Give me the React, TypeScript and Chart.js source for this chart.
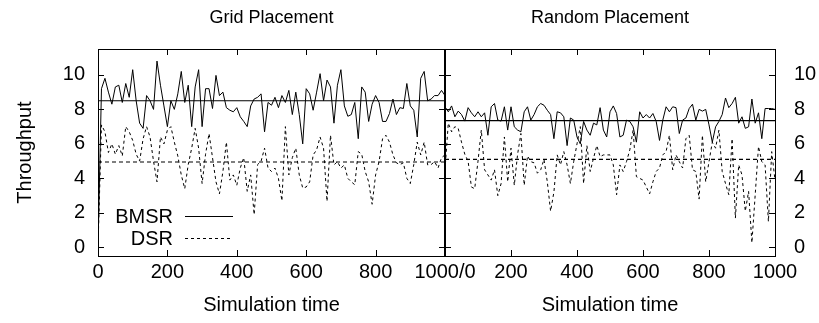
import React, { useEffect, useRef } from 'react';
import { Chart, registerables } from 'chart.js';

Chart.register(...registerables);

// ---------- data ----------
const TIME = Array.from({ length: 101 }, (_, i) => i * 10);

const GRID_BMSR = [
  0, 9.2, 9.8, 9.0, 8.3, 9.3, 9.4, 8.4, 9.5, 8.7,
  10.3, 8.5, 7.2, 6.9, 8.8, 8.5, 8.0, 10.8, 9.4, 8.2,
  7.0, 8.5, 8.0, 8.9, 10.2, 8.4, 9.4, 7.0, 9.3, 10.3,
  7.0, 9.2, 9.2, 8.05, 9.97, 8.8, 9.0, 8.1, 7.95, 7.86,
  8.1, 7.57, 7.3, 7.0, 8.2, 8.6, 8.7, 8.9, 6.7, 8.4,
  8.24, 8.7, 8.1, 8.8, 8.4, 9.1, 7.7, 9.0, 7.7, 6.0,
  9.2, 8.9, 7.95, 9.0, 10.07, 8.5, 9.7, 9.3, 7.2, 9.4,
  10.3, 8.2, 7.6, 7.7, 8.4, 6.3, 9.3, 9.0, 7.3, 8.3,
  8.8, 8.4, 7.3, 7.3, 7.76, 8.6, 7.7, 8.1, 8.05, 9.5,
  8.2, 7.95, 6.4, 9.8, 10.2, 8.5, 8.6, 8.8, 8.8, 9.1,
  8.8,
];

const GRID_DSR = [
  0, 7.1, 6.7, 5.5, 6.0, 5.4, 5.9, 5.3, 7.0, 6.7,
  6.2, 5.4, 5.0, 6.3, 7.0, 6.4, 5.0, 3.8, 6.4, 6.0,
  6.8, 7.0, 6.1, 5.3, 4.2, 3.4, 4.8, 5.75, 6.9, 5.75,
  3.7, 5.4, 6.6, 5.2, 3.8, 3.1, 4.4, 6.1, 3.9, 4.2,
  3.6, 4.6, 5.2, 3.25, 4.2, 1.9, 4.8, 5.0, 5.75, 4.6,
  4.4, 4.6, 4.0, 2.7, 7.0, 4.2, 5.2, 5.75, 4.2, 3.44,
  3.5, 3.8, 5.36, 5.65, 6.4, 5.75, 2.67, 6.5, 4.78, 4.97,
  4.6, 4.78, 4.0, 3.8, 3.63, 5.55, 5.4, 4.4, 3.8, 2.5,
  4.2, 4.97, 6.3, 6.5, 6.1, 5.36, 4.9, 4.8, 4.9, 4.0,
  3.7, 4.8, 6.1, 5.36, 6.1, 4.78, 4.8, 4.97, 4.6, 5.2,
  5.36,
];

const RANDOM_BMSR = [
  8.15, 7.86, 8.2, 7.57, 7.9, 7.7, 7.32, 8.1, 7.8, 7.57,
  7.86, 7.57, 7.8, 6.5, 8.15, 8.34, 7.38, 7.32, 8.15, 6.8,
  8.15, 6.99, 6.8, 6.7, 7.86, 8.15, 7.38, 7.7, 8.15, 8.34,
  8.24, 7.95, 7.7, 6.3, 7.86, 7.8, 7.57, 5.9, 7.5, 7.38,
  6.4, 6.0, 7.3, 6.8, 6.5, 7.2, 7.1, 8.1, 6.8, 6.4,
  7.86, 8.2, 7.76, 6.4, 6.5, 7.38, 7.3, 6.99, 6.1, 7.86,
  7.5, 7.7, 7.5, 7.76, 7.3, 6.2, 7.38, 8.15, 7.86, 8.15,
  8.1, 6.6, 7.38, 7.5, 8.05, 8.3, 7.38, 8.0, 7.9, 8.0,
  7.1, 6.1, 6.99, 7.3, 7.7, 8.66, 8.1, 8.34, 8.7, 7.2,
  7.57, 6.9, 6.99, 8.6, 7.2, 7.8, 6.3, 8.05, 8.05, 8.05,
  8.0,
];

const RANDOM_DSR = [
  4.5, 7.2, 6.7, 7.0, 6.9, 6.1, 5.4, 5.0, 3.5, 3.4,
  5.0, 6.8, 4.5, 4.2, 3.9, 4.5, 3.0, 3.7, 6.4, 3.8,
  5.75, 3.6, 5.4, 6.6, 3.6, 5.3, 4.97, 4.9, 4.3, 4.5,
  5.1, 3.8, 2.1, 3.2, 5.36, 4.78, 5.55, 4.78, 3.7, 4.97,
  6.0, 7.0, 3.7, 5.9, 4.4, 5.17, 5.9, 5.26, 5.36, 5.36,
  5.36, 4.78, 3.05, 4.78, 4.4, 4.97, 5.65, 6.8, 4.1, 4.0,
  3.9, 3.5, 3.1, 3.8, 4.4, 4.6, 5.36, 5.55, 6.5, 4.5,
  5.36, 4.97, 4.6, 6.3, 6.5, 4.5, 4.4, 2.8, 6.5, 3.8,
  4.97, 6.1, 5.75, 6.8, 4.4, 3.7, 3.05, 6.3, 1.7, 4.78,
  4.2, 2.1, 3.25, 0.27, 3.05, 5.85, 4.97, 4.78, 1.5, 5.55,
  3.9,
];

const GRID_BMSR_MEAN = 8.5;
const GRID_DSR_MEAN = 4.95;
const RANDOM_BMSR_MEAN = 7.35;
const RANDOM_DSR_MEAN = 5.1;

const X_TICKS = [0, 200, 400, 600, 800, 1000];
const Y_TICKS = [0, 2, 4, 6, 8, 10];
const X_MIN = 0;
const X_MAX = 1000;
const Y_MIN = -0.5;
const Y_MAX = 11.5;

const PANEL_TITLES = ['Grid Placement', 'Random Placement'];
const SERIES_NAMES = ['BMSR', 'DSR'];
const X_TITLE = 'Simulation time';
const Y_TITLE = 'Throughput';

const FONT = '"Liberation Sans", Arial, Helvetica, sans-serif';
const TEXT_SIZE = 20;
const TITLE_SIZE = 18;

type PanelProps = {
  side: 'left' | 'right';
  left: number;
  width: number;
  title: string;
  bmsr: number[];
  dsr: number[];
  bmsrMean: number;
  dsrMean: number;
};

function Panel(props: PanelProps) {
  const ref = useRef<HTMLCanvasElement | null>(null);

  useEffect(() => {
    const canvas = ref.current;
    if (!canvas) return;
    const isLeft = props.side === 'left';

    const framePlugin = {
      id: 'frameTicks',
      afterDatasetsDraw(chart: any) {
        const { ctx, chartArea: a, scales } = chart;
        const xs = scales.x;
        const ys = scales.y;
        ctx.save();
        ctx.strokeStyle = '#000';
        ctx.setLineDash([]);
        ctx.lineWidth = 1;
        ctx.beginPath();
        X_TICKS.forEach((v) => {
          const px = Math.round(xs.getPixelForValue(v)) + 0.5;
          ctx.moveTo(px, a.bottom);
          ctx.lineTo(px, a.bottom - 6);
          ctx.moveTo(px, a.top);
          ctx.lineTo(px, a.top + 6);
        });
        Y_TICKS.forEach((v) => {
          const py = Math.round(ys.getPixelForValue(v)) + 0.5;
          ctx.moveTo(a.left, py);
          ctx.lineTo(a.left + 6, py);
          ctx.moveTo(a.right, py);
          ctx.lineTo(a.right - 6, py);
        });
        ctx.stroke();
        // frame
        ctx.beginPath();
        ctx.moveTo(a.left + 0.5, a.top + 0.5);
        ctx.lineTo(a.right + 0.5, a.top + 0.5);
        ctx.moveTo(a.left + 0.5, a.bottom + 0.5);
        ctx.lineTo(a.right + 0.5, a.bottom + 0.5);
        if (isLeft) {
          ctx.moveTo(a.left + 0.5, a.top);
          ctx.lineTo(a.left + 0.5, a.bottom + 1);
        } else {
          ctx.moveTo(a.right + 0.5, a.top);
          ctx.lineTo(a.right + 0.5, a.bottom + 1);
        }
        ctx.stroke();
        // shared middle border, drawn thicker
        ctx.lineWidth = 2;
        ctx.beginPath();
        const mx = isLeft ? a.right : a.left;
        ctx.moveTo(mx, a.top);
        ctx.lineTo(mx, a.bottom + 1);
        ctx.stroke();

        // panel title
        ctx.fillStyle = '#000';
        ctx.font = `${TITLE_SIZE}px ${FONT}`;
        ctx.textAlign = 'center';
        ctx.textBaseline = 'middle';
        ctx.fillText(props.title, (a.left + a.right) / 2, 18);

        // legend (left panel only)
        if (isLeft) {
          ctx.font = `${TEXT_SIZE}px ${FONT}`;
          ctx.textAlign = 'right';
          ctx.textBaseline = 'middle';
          const tx = a.left + 75;
          const rows = [a.top + 168, a.top + 190];
          ctx.fillText(SERIES_NAMES[0], tx, rows[0]);
          ctx.fillText(SERIES_NAMES[1], tx, rows[1]);
          ctx.lineWidth = 1;
          ctx.beginPath();
          ctx.setLineDash([]);
          ctx.moveTo(tx + 12, rows[0] - 0.5);
          ctx.lineTo(tx + 60, rows[0] - 0.5);
          ctx.stroke();
          ctx.beginPath();
          ctx.setLineDash([3, 3]);
          ctx.moveTo(tx + 12, rows[1] - 0.5);
          ctx.lineTo(tx + 60, rows[1] - 0.5);
          ctx.stroke();
        }
        ctx.restore();
      },
    };

    const line = (vals: number[], dash: number[], label: string) => ({
      label,
      data: TIME.map((t, i) => ({ x: t, y: vals[i] })),
      borderColor: '#000',
      backgroundColor: '#000',
      borderWidth: 1,
      borderDash: dash,
      pointRadius: 0,
      fill: false,
      tension: 0,
    });
    const meanLine = (m: number, dash: number[], label: string) => ({
      label,
      data: [
        { x: X_MIN, y: m },
        { x: X_MAX, y: m },
      ],
      borderColor: '#000',
      borderWidth: 1.2,
      borderDash: dash,
      pointRadius: 0,
      fill: false,
    });

    const chart = new Chart(canvas, {
      type: 'line',
      data: {
        datasets: [
          line(props.bmsr, [], SERIES_NAMES[0]),
          line(props.dsr, [3, 3], SERIES_NAMES[1]),
          meanLine(props.bmsrMean, [], SERIES_NAMES[0] + ' mean'),
          meanLine(props.dsrMean, [4, 3], SERIES_NAMES[1] + ' mean'),
        ] as any,
      },
      options: {
        animation: false,
        responsive: false,
        devicePixelRatio: 1,
        events: [],
        layout: {
          padding: isLeft
            ? { top: 49, right: props.width - 445, bottom: 0, left: 0 }
            : { top: 49, right: 0, bottom: 0, left: 445 - props.left },
        },
        plugins: {
          legend: { display: false },
          tooltip: { enabled: false },
          title: { display: false },
        },
        scales: {
          x: {
            type: 'linear',
            min: X_MIN,
            max: X_MAX,
            afterBuildTicks: (s: any) => {
              s.ticks = X_TICKS.map((v) => ({ value: v }));
            },
            afterFit: (s: any) => {
              s.height = 67;
            },
            grid: { display: false, drawTicks: false },
            border: { display: false },
            ticks: {
              autoSkip: false,
              maxRotation: 0,
              minRotation: 0,
              padding: 4,
              color: '#000',
              font: { family: FONT, size: TEXT_SIZE },
              callback: (v: any) => {
                if (isLeft) return v === X_MAX ? '' : String(v);
                return v === X_MIN ? '1000/0' : String(v);
              },
            },
            title: {
              display: true,
              text: X_TITLE,
              color: '#000',
              font: { family: FONT, size: TEXT_SIZE },
              padding: { top: 0, bottom: 6 },
            },
          },
          y: {
            type: 'linear',
            position: isLeft ? 'left' : 'right',
            min: Y_MIN,
            max: Y_MAX,
            afterBuildTicks: (s: any) => {
              s.ticks = Y_TICKS.map((v) => ({ value: v }));
            },
            afterFit: (s: any) => {
              s.width = isLeft ? 98 : props.left + props.width - 775;
            },
            grid: { display: false, drawTicks: false },
            border: { display: false },
            ticks: {
              padding: isLeft ? 13 : 19,
              color: '#000',
              font: { family: FONT, size: TEXT_SIZE },
            },
            title: {
              display: isLeft,
              text: Y_TITLE,
              color: '#000',
              font: { family: FONT, size: TEXT_SIZE },
              padding: { top: 13, bottom: 0 },
            },
          },
        },
      } as any,
      plugins: [framePlugin],
    });

    return () => {
      chart.destroy();
    };
  }, []);

  return (
    <canvas
      ref={ref}
      width={props.width}
      height={323}
      style={{
        position: 'absolute',
        left: props.left,
        top: 0,
        width: props.width,
        height: 323,
      }}
    />
  );
}

export default function App() {
  return (
    <div
      style={{
        position: 'absolute',
        left: 0,
        top: 0,
        width: 819,
        height: 323,
        background: '#fff',
        overflow: 'hidden',
      }}
    >
      <Panel
        side="left"
        left={0}
        width={470}
        title={PANEL_TITLES[0]}
        bmsr={GRID_BMSR}
        dsr={GRID_DSR}
        bmsrMean={GRID_BMSR_MEAN}
        dsrMean={GRID_DSR_MEAN}
      />
      <Panel
        side="right"
        left={400}
        width={419}
        title={PANEL_TITLES[1]}
        bmsr={RANDOM_BMSR}
        dsr={RANDOM_DSR}
        bmsrMean={RANDOM_BMSR_MEAN}
        dsrMean={RANDOM_DSR_MEAN}
      />
    </div>
  );
}
